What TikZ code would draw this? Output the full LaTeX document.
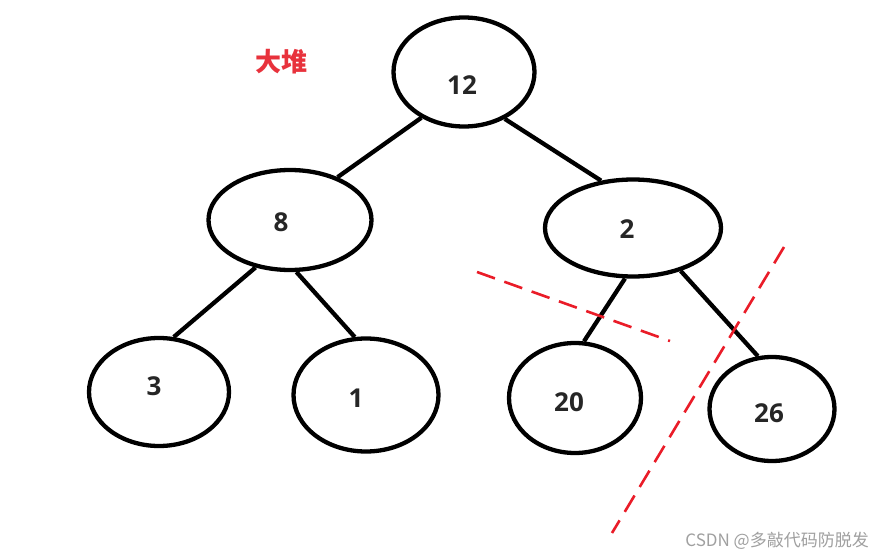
\documentclass[tikz,border=0pt]{standalone}
\usepackage{fontspec}
\setmainfont{Open Sans}
\newfontfamily\cjk{Noto Sans CJK SC}
\usetikzlibrary{shapes.geometric}
\definecolor{inkgray}{HTML}{262626}
\definecolor{heapred}{HTML}{E8323C}
\definecolor{cutred}{HTML}{EA1C28}
\definecolor{wmgray}{HTML}{A0A0A0}
\tikzset{
  heapnode/.style={ellipse, draw=black, line width=4.3pt, inner sep=0pt, fill=white},
  numlbl/.style={text=inkgray, font=\fontsize{26}{26}\selectfont\bfseries, inner sep=0pt},
  edge/.style={line width=4.3pt, draw=black},
  cut/.style={draw=cutred, line width=2.6pt, dash pattern=on 19pt off 10pt},
}
\begin{document}
\begin{tikzpicture}[x=1pt, y=-1pt]
\useasboundingbox (0,0) rectangle (873,556);
\fill[white] (0,0) rectangle (873,556);

\node[heapnode, minimum width=141pt, minimum height=109pt,
  label={[numlbl, xshift=-2pt, yshift=-13pt]center:12}] (n12) at (464,72) {};
\node[heapnode, minimum width=163pt, minimum height=100pt,
  label={[numlbl, xshift=-9pt, yshift=-2pt]center:8}] (n8) at (290,220) {};
\node[heapnode, minimum width=176pt, minimum height=97pt,
  label={[numlbl, xshift=-6pt, yshift=-1pt]center:2}] (n2) at (633,228) {};
\node[heapnode, minimum width=140pt, minimum height=108pt,
  label={[numlbl, xshift=-5pt, yshift=6pt]center:3}] (n3) at (159,392) {};
\node[heapnode, minimum width=145pt, minimum height=113pt,
  label={[numlbl, xshift=-10pt, yshift=-3pt]center:1}] (n1) at (366,395) {};
\node[heapnode, minimum width=132pt, minimum height=110pt,
  label={[numlbl, xshift=-6pt, yshift=-4pt]center:20}] (n20) at (575,398) {};
\node[heapnode, minimum width=125pt, minimum height=104pt,
  label={[numlbl, xshift=-3pt, yshift=-4pt]center:26}] (n26) at (772,409) {};

\draw[edge] (n12.227.5) -- (n8.42);
\draw[edge] (n12.311) -- (n2.124);
\draw[edge] (n8.234.6) -- (n3.75.5);
\draw[edge] (n8.277.7) -- (n1.101);
\draw[edge] (n2.261) -- (n20.81);
\draw[edge] (n2.318.6) -- (n26.105.5);

\coordinate (cutAa) at (477,272);
\coordinate (cutAb) at (670,341);
\coordinate (cutBa) at (784,247);
\coordinate (cutBb) at (612,533);
\draw[cut] (cutAa) -- (cutAb);
\draw[cut] (cutBa) -- (cutBb);

\node[text=heapred, font=\cjk\bfseries\fontsize{26}{26}\selectfont, inner sep=0pt] (title) at (281,62) {大堆};
\node[text=wmgray, font=\cjk\fontsize{17}{17}\selectfont, anchor=east, inner sep=0pt] (wm) at (869,541) {CSDN @多敲代码防脱发};
\end{tikzpicture}
\end{document}
